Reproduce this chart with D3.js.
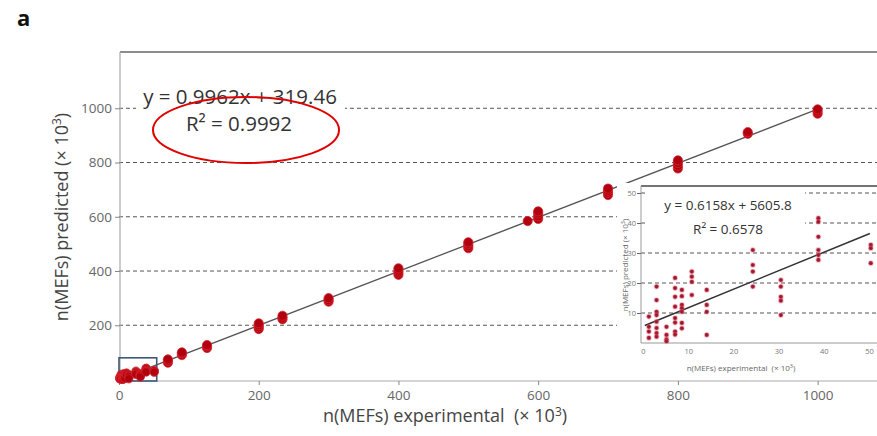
<!DOCTYPE html>
<html>
<head>
<meta charset="utf-8">
<script src="https://cdn.jsdelivr.net/npm/d3@7/dist/d3.min.js"></script>
<style>
  html, body { margin: 0; padding: 0; background: #fff; }
  svg { display: block; }
  text { font-family: "Open Sans", "Lato", sans-serif; }
</style>
</head>
<body>
<svg id="chart" width="877" height="436"></svg>
<script>
// ---- data (values in thousands of MEFs) ----
// large-count clusters: experimental value and the predicted values of its repeats
const clusterX = [70, 90, 126, 200, 234, 300, 400, 500, 585, 600, 700, 800, 900, 1000];
const clusterY = [
  [62, 68, 74],
  [90, 96, 100],
  [116, 122, 127],
  [186, 193, 200, 207],
  [222, 228, 235],
  [287, 293, 300],
  [386, 394, 402, 410],
  [484, 492, 500, 506],
  [584],
  [592, 602, 612, 620],
  [680, 688, 696, 704],
  [778, 788, 798, 808],
  [906, 912],
  [980, 988, 996]
];
// low-count samples (shown in the inset and in the lower-left corner of the main plot)
const lowX = [1.3, 3.0, 5.2, 7.1, 8.6, 10.8, 14.1, 24.3, 30.5, 38.8, 50.4];
const lowY = [
  [8.8, 5.4, 3.8, 1.7],
  [18.8, 14.3, 10.4, 9.3, 7.1, 5.0, 3.3, 2.1],
  [5.4, 2.7, 1.2, 0.6],
  [21.7, 18.3, 15.4, 12.1, 8.3, 6.8, 3.8, 2.8],
  [17.7, 15.6, 12.7, 11.6, 10.4, 6.7, 4.9],
  [23.8, 22.1, 20.4, 16.0],
  [17.7, 12.7, 10.4, 2.7],
  [31.0, 26.0, 23.8, 18.8],
  [21.0, 18.8, 15.4, 14.1, 9.3],
  [41.6, 40.4, 35.4, 31.0, 29.3, 27.7],
  [32.7, 31.6, 26.6]
];
const mainFit = { slope: 0.9962, intercept: 0.31946, label: "y = 0.9962x + 319.46", r2: "R\u00B2 = 0.9992" };
const lowFit  = { slope: 0.6158, intercept: 5.6058,  label: "y = 0.6158x + 5605.8", r2: "R\u00B2 = 0.6578" };
const mainYTicks = [200, 400, 600, 800, 1000];
const mainXTicks = [0, 200, 400, 600, 800, 1000];
const insetTicks = [0, 10, 20, 30, 40, 50];
const insetYTicks = [10, 20, 30, 40, 50];

const flat = (xs, ys) => xs.flatMap((x, i) => ys[i].map(y => ({ x, y })));
const bigPts = flat(clusterX, clusterY);
const lowPts = flat(lowX, lowY);

const svg = d3.select("#chart");

// ---- main plot ----
const x = d3.scaleLinear().domain([0, 1085]).range([119, 877]);
const y = d3.scaleLinear().domain([-5.5, 1207.5]).range([381, 52]);
const gridColor = "#555";

const main = svg.append("g");

// dashed horizontal grid
main.selectAll("line.grid").data(mainYTicks).join("line")
  .attr("x1", x(0)).attr("x2", 877)
  .attr("y1", d => y(d)).attr("y2", d => y(d))
  .attr("stroke", gridColor).attr("stroke-width", 1).attr("stroke-dasharray", "4,3");

// spines
main.append("line").attr("x1", 120).attr("x2", 877).attr("y1", 52).attr("y2", 52)
  .attr("stroke", "#666").attr("stroke-width", 1.6);
main.append("line").attr("x1", 120).attr("x2", 120).attr("y1", 52).attr("y2", 381)
  .attr("stroke", "#aaa").attr("stroke-width", 1.2);
main.append("line").attr("x1", 120).attr("x2", 877).attr("y1", 381).attr("y2", 381)
  .attr("stroke", "#aaa").attr("stroke-width", 1.2);

// axes (tick marks and labels)
const yAxis = d3.axisLeft(y).tickValues(mainYTicks).tickSize(5).tickPadding(3).tickFormat(d3.format("d"));
const gy = main.append("g").attr("transform", "translate(120,0)").call(yAxis);
const xAxis = d3.axisBottom(x).tickValues(mainXTicks).tickSize(4).tickPadding(5).tickFormat(d3.format("d"));
const gx = main.append("g").attr("transform", "translate(0,381)").call(xAxis);
[gx, gy].forEach(g => {
  g.select(".domain").remove();
  g.selectAll(".tick line").attr("stroke", "#888");
  g.selectAll(".tick text").attr("fill", "#666").style("font-size", "13.5px")
    .style("font-family", "'Open Sans', sans-serif");
});

// regression line
main.append("line")
  .attr("x1", x(0)).attr("y1", y(mainFit.intercept))
  .attr("x2", x(1000)).attr("y2", y(mainFit.slope * 1000 + mainFit.intercept))
  .attr("stroke", "#555").attr("stroke-width", 1.3);

// zoom box marking the low-count region
main.append("rect")
  .attr("x", x(0)).attr("y", y(80))
  .attr("width", x(54) - x(0)).attr("height", y(-5.5) - y(80))
  .attr("fill", "none").attr("stroke", "#3d5878").attr("stroke-width", 1.6);

// points
const dotsMain = main.append("g");
dotsMain.selectAll("circle.low").data(lowPts).join("circle")
  .attr("cx", d => x(d.x)).attr("cy", d => y(d.y)).attr("r", 4.2)
  .attr("fill", "#b0000f").attr("stroke", "#d8262e").attr("stroke-width", 0.8).attr("opacity", 0.9);
dotsMain.selectAll("circle.big").data(bigPts).join("circle")
  .attr("cx", d => x(d.x)).attr("cy", d => y(d.y)).attr("r", 4.6)
  .attr("fill", "#b0000f").attr("stroke", "#d8262e").attr("stroke-width", 0.8);

// equation with white backing
main.append("rect").attr("x", 136).attr("y", 84).attr("width", 209).attr("height", 54).attr("fill", "#fff");
main.append("text").attr("x", 240).attr("y", 104).attr("text-anchor", "middle")
  .attr("fill", "#333").style("font-size", "20.5px").text(mainFit.label);
main.append("text").attr("x", 239).attr("y", 131).attr("text-anchor", "middle")
  .attr("fill", "#333").style("font-size", "20.5px").text(mainFit.r2);
main.append("ellipse").attr("cx", 246).attr("cy", 130).attr("rx", 93).attr("ry", 33)
  .attr("fill", "none").attr("stroke", "#e00000").attr("stroke-width", 2);

// axis titles
main.append("text")
  .attr("transform", "translate(68,217) rotate(-90)").attr("text-anchor", "middle")
  .attr("fill", "#444").style("font-size", "18px")
  .html("n(MEFs) predicted (\u00D7 10<tspan dy='-7' font-size='12px'>3</tspan><tspan dy='7'>)</tspan>");
main.append("text")
  .attr("x", 445).attr("y", 422).attr("text-anchor", "middle")
  .attr("fill", "#444").style("font-size", "18px").attr("xml:space", "preserve")
  .html("n(MEFs) experimental&#160;&#160;(\u00D7 10<tspan dy='-6' font-size='12px'>3</tspan><tspan dy='6'>)</tspan>");

// panel letter
svg.append("text").attr("x", 17).attr("y", 26).attr("fill", "#111")
  .style("font-size", "22px").style("font-weight", "bold").text("a");

// ---- inset: low-count region ----
const ix = d3.scaleLinear().domain([0, 50]).range([643, 869]);
const iy = d3.scaleLinear().domain([0, 50]).range([343, 193]);
const inset = svg.append("g");

inset.append("rect").attr("x", 617).attr("y", 183).attr("width", 260).attr("height", 194).attr("fill", "#fff");

inset.selectAll("line.grid").data(insetYTicks).join("line")
  .attr("x1", 641).attr("x2", 877)
  .attr("y1", d => iy(d)).attr("y2", d => iy(d))
  .attr("stroke", gridColor).attr("stroke-width", 1).attr("stroke-dasharray", "4,3");

inset.append("line").attr("x1", 641).attr("x2", 877).attr("y1", 186).attr("y2", 186)
  .attr("stroke", "#444").attr("stroke-width", 1.6);
inset.append("line").attr("x1", 641).attr("x2", 641).attr("y1", 186).attr("y2", 343)
  .attr("stroke", "#999").attr("stroke-width", 1);
inset.append("line").attr("x1", 641).attr("x2", 877).attr("y1", 343).attr("y2", 343)
  .attr("stroke", "#999").attr("stroke-width", 1);

const iyAxis = d3.axisLeft(iy).tickValues(insetYTicks).tickSize(4).tickPadding(1);
const giy = inset.append("g").attr("transform", "translate(641,0)").call(iyAxis);
const ixAxis = d3.axisBottom(ix).tickValues(insetTicks).tickSize(0).tickPadding(6);
const gix = inset.append("g").attr("transform", "translate(0,343)").call(ixAxis);
[giy, gix].forEach(g => {
  g.select(".domain").remove();
  g.selectAll(".tick line").attr("stroke", "#666");
  g.selectAll(".tick text").attr("fill", "#777").style("font-size", "7.5px");
});

inset.append("line")
  .attr("x1", ix(0.4)).attr("y1", iy(lowFit.slope * 0.4 + lowFit.intercept))
  .attr("x2", ix(50.2)).attr("y2", iy(lowFit.slope * 50.2 + lowFit.intercept))
  .attr("stroke", "#333").attr("stroke-width", 1.5);

inset.selectAll("circle").data(lowPts).join("circle")
  .attr("cx", d => ix(d.x)).attr("cy", d => iy(d.y)).attr("r", 2.1)
  .attr("fill", "#9a1830").attr("stroke", "rgba(230,90,110,0.35)").attr("stroke-width", 1.6);

inset.append("rect").attr("x", 648).attr("y", 191).attr("width", 157).attr("height", 46).attr("fill", "#fff");
inset.append("text").attr("x", 728).attr("y", 210).attr("text-anchor", "middle")
  .attr("fill", "#333").style("font-size", "13.5px").text(lowFit.label);
inset.append("text").attr("x", 728).attr("y", 234).attr("text-anchor", "middle")
  .attr("fill", "#333").style("font-size", "13.5px").text(lowFit.r2);

inset.append("text")
  .attr("transform", "translate(628,265) rotate(-90)").attr("text-anchor", "middle")
  .attr("fill", "#666").style("font-size", "8px")
  .html("n(MEFs) predicted (\u00D7 10<tspan dy='-3' font-size='5.5px'>3</tspan><tspan dy='3'>)</tspan>");
inset.append("text")
  .attr("x", 741).attr("y", 371).attr("text-anchor", "middle")
  .attr("fill", "#666").style("font-size", "8px")
  .html("n(MEFs) experimental&#160;&#160;(\u00D7 10<tspan dy='-3' font-size='5.5px'>3</tspan><tspan dy='3'>)</tspan>");
</script>
</body>
</html>
